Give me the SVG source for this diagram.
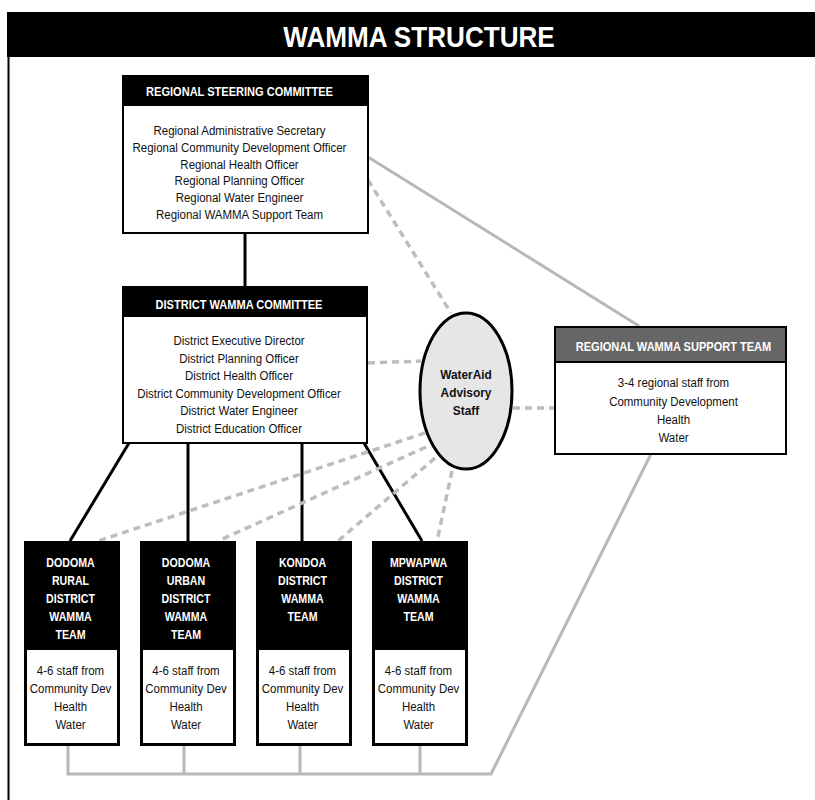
<svg xmlns="http://www.w3.org/2000/svg" width="815" height="800" viewBox="0 0 815 800">
<style>
.t{font-family:"Liberation Sans",Arial,sans-serif;text-anchor:middle;}
.b{font-weight:bold;fill:#fff;}
.bd{font-size:13.5px;fill:#111;}
.hd{font-size:13px;}
.sm{font-size:12.5px;}
.box{fill:#fff;stroke:#000;stroke-width:2;}
.tbox{fill:#fff;stroke:#000;stroke-width:3;}
.solid{stroke:#000;stroke-width:3;fill:none;}
.gray{stroke:#b8b8b8;stroke-width:3;fill:none;}
.dash{stroke:#bdbdbd;stroke-width:3.5;stroke-dasharray:7 5;fill:none;}
</style>
<rect x="0" y="0" width="815" height="800" fill="#fff"/>
<g id="frame">
<rect x="7" y="12" width="808" height="45" fill="#000"/>
<line x1="8.5" y1="57" x2="8.5" y2="800" stroke="#000" stroke-width="2"/>
<g transform="translate(419 0) scale(0.87 1)"><text class="t" x="0" y="47" font-size="30" font-weight="bold" fill="#fff">WAMMA STRUCTURE</text></g>
</g>
<g id="connectors">
<line class="solid" x1="245" y1="233" x2="245" y2="287"/>
<line class="solid" x1="129" y1="443" x2="70" y2="541"/>
<line class="solid" x1="188" y1="443" x2="188" y2="541"/>
<line class="solid" x1="302" y1="443" x2="302" y2="541"/>
<line class="solid" x1="364" y1="443" x2="422" y2="541"/>
<line class="gray" x1="368" y1="157" x2="639" y2="326"/>
<polyline class="gray" points="68,745 68,774 491,774 651,454"/>
<line class="gray" x1="184" y1="745" x2="184" y2="774"/>
<line class="gray" x1="300" y1="745" x2="300" y2="774"/>
<line class="gray" x1="420" y1="745" x2="420" y2="774"/>
<line class="dash" x1="368" y1="180" x2="451" y2="313"/>
<line class="dash" x1="368" y1="363" x2="421" y2="361"/>
<line class="dash" x1="513" y1="408" x2="555" y2="408"/>
<line class="dash" x1="425" y1="433" x2="98" y2="541"/>
<line class="dash" x1="426" y1="447" x2="218" y2="541"/>
<line class="dash" x1="435" y1="458" x2="338" y2="541"/>
<line class="dash" x1="452" y1="471" x2="437" y2="541"/>
</g>
<g id="regional-steering-committee">
<rect class="box" x="123" y="76" width="245" height="157"/>
<rect x="123" y="76" width="245" height="30" fill="#000"/>
<g transform="translate(239.5 0) scale(0.85 1)">
<text class="t b hd" x="0" y="96">REGIONAL STEERING COMMITTEE</text>
<text class="t bd" x="0" y="135.5">Regional Administrative Secretary</text>
<text class="t bd" x="0" y="152">Regional Community Development Officer</text>
<text class="t bd" x="0" y="169">Regional Health Officer</text>
<text class="t bd" x="0" y="185.5">Regional Planning Officer</text>
<text class="t bd" x="0" y="202">Regional Water Engineer</text>
<text class="t bd" x="0" y="219">Regional WAMMA Support Team</text>
</g>
</g>
<g id="district-wamma-committee">
<rect class="box" x="123" y="287" width="244" height="156"/>
<rect x="123" y="287" width="244" height="30" fill="#000"/>
<g transform="translate(239 0) scale(0.85 1)">
<text class="t b hd" x="0" y="309.5">DISTRICT WAMMA COMMITTEE</text>
<text class="t bd" x="0" y="345.5">District Executive Director</text>
<text class="t bd" x="0" y="363">District Planning Officer</text>
<text class="t bd" x="0" y="380.5">District Health Officer</text>
<text class="t bd" x="0" y="398">District Community Development Officer</text>
<text class="t bd" x="0" y="415.5">District Water Engineer</text>
<text class="t bd" x="0" y="433.5">District Education Officer</text>
</g>
</g>
<g id="wateraid-advisory-staff">
<ellipse cx="466" cy="391" rx="46" ry="78" fill="#e6e6e6" stroke="#000" stroke-width="3"/>
<g transform="translate(466 0) scale(0.88 1)">
<text class="t" x="0" y="379" font-size="13.5" font-weight="bold" fill="#111">WaterAid</text>
<text class="t" x="0" y="397" font-size="13.5" font-weight="bold" fill="#111">Advisory</text>
<text class="t" x="0" y="415" font-size="13.5" font-weight="bold" fill="#111">Staff</text>
</g>
</g>
<g id="regional-wamma-support-team">
<rect class="box" x="555" y="327" width="231" height="127"/>
<rect x="555" y="327" width="231" height="35" fill="#666" stroke="#000" stroke-width="2"/>
<g transform="translate(673.5 0) scale(0.85 1)">
<text class="t b hd" x="0" y="351.5">REGIONAL WAMMA SUPPORT TEAM</text>
<text class="t bd" x="0" y="387">3-4 regional staff from</text>
<text class="t bd" x="0" y="406">Community Development</text>
<text class="t bd" x="0" y="424.5">Health</text>
<text class="t bd" x="0" y="442.5">Water</text>
</g>
</g>
<g id="dodoma-rural">
<rect class="tbox" x="25.5" y="542.5" width="93" height="202"/>
<rect x="24" y="541" width="96" height="109" fill="#000"/>
<g transform="translate(70.5 0) scale(0.85 1)">
<text class="t b sm" x="0" y="567.5">DODOMA</text>
<text class="t b sm" x="0" y="585.5">RURAL</text>
<text class="t b sm" x="0" y="603.5">DISTRICT</text>
<text class="t b sm" x="0" y="621.5">WAMMA</text>
<text class="t b sm" x="0" y="639.5">TEAM</text>
<text class="t bd" x="0" y="675.5">4-6 staff from</text>
<text class="t bd" x="0" y="693.5">Community Dev</text>
<text class="t bd" x="0" y="711.5">Health</text>
<text class="t bd" x="0" y="729.5">Water</text>
</g>
</g>
<g id="dodoma-urban">
<rect class="tbox" x="141.5" y="542.5" width="93" height="202"/>
<rect x="140" y="541" width="96" height="109" fill="#000"/>
<g transform="translate(186 0) scale(0.85 1)">
<text class="t b sm" x="0" y="567.5">DODOMA</text>
<text class="t b sm" x="0" y="585.5">URBAN</text>
<text class="t b sm" x="0" y="603.5">DISTRICT</text>
<text class="t b sm" x="0" y="621.5">WAMMA</text>
<text class="t b sm" x="0" y="639.5">TEAM</text>
<text class="t bd" x="0" y="675.5">4-6 staff from</text>
<text class="t bd" x="0" y="693.5">Community Dev</text>
<text class="t bd" x="0" y="711.5">Health</text>
<text class="t bd" x="0" y="729.5">Water</text>
</g>
</g>
<g id="kondoa">
<rect class="tbox" x="257.5" y="542.5" width="93" height="202"/>
<rect x="256" y="541" width="96" height="109" fill="#000"/>
<g transform="translate(302.5 0) scale(0.85 1)">
<text class="t b sm" x="0" y="567.5">KONDOA</text>
<text class="t b sm" x="0" y="585.5">DISTRICT</text>
<text class="t b sm" x="0" y="603.5">WAMMA</text>
<text class="t b sm" x="0" y="621.5">TEAM</text>
<text class="t bd" x="0" y="675.5">4-6 staff from</text>
<text class="t bd" x="0" y="693.5">Community Dev</text>
<text class="t bd" x="0" y="711.5">Health</text>
<text class="t bd" x="0" y="729.5">Water</text>
</g>
</g>
<g id="mpwapwa">
<rect class="tbox" x="373.5" y="542.5" width="93" height="202"/>
<rect x="372" y="541" width="96" height="109" fill="#000"/>
<g transform="translate(418.5 0) scale(0.85 1)">
<text class="t b sm" x="0" y="567.5">MPWAPWA</text>
<text class="t b sm" x="0" y="585.5">DISTRICT</text>
<text class="t b sm" x="0" y="603.5">WAMMA</text>
<text class="t b sm" x="0" y="621.5">TEAM</text>
<text class="t bd" x="0" y="675.5">4-6 staff from</text>
<text class="t bd" x="0" y="693.5">Community Dev</text>
<text class="t bd" x="0" y="711.5">Health</text>
<text class="t bd" x="0" y="729.5">Water</text>
</g>
</g>
</svg>
